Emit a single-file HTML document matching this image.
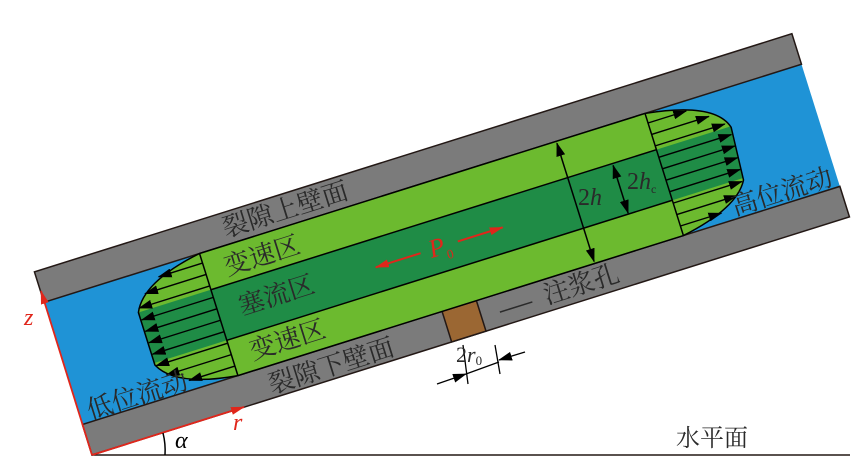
<!DOCTYPE html>
<html><head><meta charset="utf-8"><style>
html,body{margin:0;padding:0;background:#fff}
svg{display:block}
.cn{font-family:"Liberation Serif","Noto Serif CJK SC",serif;fill:#2a2a2a}
.rm{font-family:"Liberation Serif",serif}
</style></head><body>
<svg width="860" height="476" viewBox="0 0 860 476" xmlns="http://www.w3.org/2000/svg">
<defs>
<marker id="ah" markerWidth="14" markerHeight="9" refX="13" refY="4.5" orient="auto" markerUnits="userSpaceOnUse">
<path d="M0,0 L14,4.5 L0,9 Z" fill="#000"/></marker>
<marker id="ahs" markerWidth="14" markerHeight="9" refX="1" refY="4.5" orient="auto" markerUnits="userSpaceOnUse">
<path d="M14,0 L0,4.5 L14,9 Z" fill="#000"/></marker>
<marker id="rh" markerWidth="14" markerHeight="8" refX="13" refY="4" orient="auto" markerUnits="userSpaceOnUse">
<path d="M0,0 L14,4 L0,8 Z" fill="#e0261b"/></marker>
<clipPath id="shp"><path d="M163,-160 L630,-160 Q700,-150 708,-121 L704,-67 Q690,-42 630,-32 L163,-32 Q100,-40 87,-67 L87,-122 Q100,-150 163,-160 Z"/></clipPath>
</defs>
<g transform="translate(92,455) rotate(-17.45)">
<rect x="0" y="-160" width="794" height="128" fill="#1f93d6"/>
<rect x="0" y="-192" width="794" height="32" fill="#7b7b7b" stroke="#231815" stroke-width="1.5"/>
<rect x="0" y="-32" width="794" height="32" fill="#7b7b7b" stroke="#231815" stroke-width="1.5"/>
<rect x="377" y="-32" width="36" height="32" fill="#9b6733" stroke="#231815" stroke-width="1.5"/>
<path d="M163,-160 L630,-160 Q700,-150 708,-121 L704,-67 Q690,-42 630,-32 L163,-32 Q100,-40 87,-67 L87,-122 Q100,-150 163,-160 Z" fill="#6cba2f"/>
<rect x="80" y="-122" width="640" height="53" fill="#1f8c46" clip-path="url(#shp)"/>
<g stroke="#000" stroke-width="1.5" fill="none">
<line x1="163" y1="-122" x2="630" y2="-122"/>
<line x1="163" y1="-69" x2="630" y2="-69"/>
<line x1="163" y1="-160" x2="163" y2="-32"/>
<line x1="630" y1="-160" x2="630" y2="-32"/>
<path d="M163,-160 L630,-160 Q700,-150 708,-121 L704,-67 Q690,-42 630,-32 L163,-32 Q100,-40 87,-67 L87,-122 Q100,-150 163,-160 Z"/>
</g>
<g stroke="#000" stroke-width="1.4" marker-end="url(#ah)">
<line x1="630" y1="-150" x2="670" y2="-150"/>
<line x1="630" y1="-138" x2="690" y2="-138"/>
<line x1="630" y1="-126" x2="703" y2="-126"/>
<line x1="630" y1="-114" x2="706" y2="-114"/>
<line x1="630" y1="-102" x2="706" y2="-102"/>
<line x1="630" y1="-90" x2="705" y2="-90"/>
<line x1="630" y1="-78" x2="704" y2="-78"/>
<line x1="630" y1="-66" x2="702" y2="-66"/>
<line x1="630" y1="-54" x2="693" y2="-54"/>
<line x1="630" y1="-42" x2="673" y2="-42"/>
<line x1="163" y1="-150" x2="117" y2="-150"/>
<line x1="163" y1="-138" x2="99" y2="-138"/>
<line x1="163" y1="-126" x2="89" y2="-126"/>
<line x1="163" y1="-114" x2="88" y2="-114"/>
<line x1="163" y1="-102" x2="88" y2="-102"/>
<line x1="163" y1="-90" x2="88" y2="-90"/>
<line x1="163" y1="-78" x2="88" y2="-78"/>
<line x1="163" y1="-66" x2="88" y2="-66"/>
<line x1="163" y1="-54" x2="95" y2="-54"/>
<line x1="163" y1="-42" x2="115" y2="-42"/>
</g>
<line x1="537" y1="-158" x2="537" y2="-34" stroke="#000" stroke-width="1.5" marker-end="url(#ah)" marker-start="url(#ahs)"/>
<line x1="584" y1="-120" x2="584" y2="-70" stroke="#000" stroke-width="1.5" marker-end="url(#ah)" marker-start="url(#ahs)"/>
<line x1="374" y1="-94" x2="327" y2="-94" stroke="#e0261b" stroke-width="2" marker-end="url(#rh)"/>
<line x1="413" y1="-94" x2="460" y2="-94" stroke="#e0261b" stroke-width="2" marker-end="url(#rh)"/>
<text x="383" y="-86" class="rm" font-style="italic" font-size="26" fill="#e0261b">P<tspan font-size="13" font-style="normal" dy="6">0</tspan></text>
<g class="cn" font-size="26" text-anchor="middle" dominant-baseline="central">
<text x="258" y="-176">裂隙上壁面</text>
<text x="222" y="-139">变速区</text>
<text x="224" y="-97">塞流区</text>
<text x="221" y="-51">变速区</text>
<text x="255" y="-13">裂隙下壁面</text>
<text x="61" y="-43">低位流动</text>
<text x="737" y="-44">高位流动</text>
<text x="518" y="-16">注浆孔</text>
</g>
<line x1="432" y1="-14" x2="466" y2="-14" stroke="#2a2a2a" stroke-width="1.5"/>
</g>
<text x="578" y="205" class="rm" font-size="24" fill="#2a2a2a">2<tspan font-style="italic">h</tspan></text>
<text x="627" y="189" class="rm" font-size="24" fill="#2a2a2a">2<tspan font-style="italic">h</tspan><tspan font-size="12" dy="4">c</tspan></text>
<g stroke="#000" stroke-width="1.3">
<line x1="463" y1="345" x2="468" y2="384"/>
<line x1="495" y1="345" x2="500" y2="374"/>
<line x1="437" y1="384" x2="466" y2="374" marker-end="url(#ah)"/>
<line x1="525" y1="352" x2="499" y2="360" marker-end="url(#ah)"/>
<line x1="466" y1="374" x2="499" y2="362"/>
</g>
<text x="456" y="362" class="rm" font-size="22" fill="#2a2a2a">2<tspan font-style="italic">r</tspan><tspan font-size="13" dy="3">0</tspan></text>
<line x1="92" y1="455" x2="850" y2="455" stroke="#231815" stroke-width="1.5"/>
<line x1="92" y1="455" x2="41" y2="291" stroke="#e0261b" stroke-width="1.8" marker-end="url(#rh)"/>
<line x1="92" y1="455" x2="244" y2="407" stroke="#e0261b" stroke-width="1.8" marker-end="url(#rh)"/>
<text x="24" y="325" class="rm" font-style="italic" font-size="24" fill="#e0261b">z</text>
<text x="233" y="430" class="rm" font-style="italic" font-size="24" fill="#e0261b">r</text>
<path d="M163,433 A72,72 0 0 1 165,455" fill="none" stroke="#000" stroke-width="1.5"/>
<text x="175" y="448" class="rm" font-style="italic" font-size="24" fill="#000">α</text>
<text x="676" y="446" class="cn" font-size="24">水平面</text>
</svg>
</body></html>
